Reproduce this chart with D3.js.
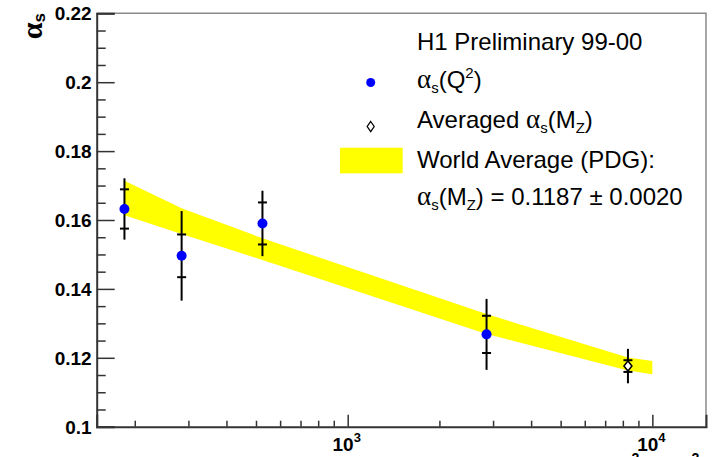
<!DOCTYPE html>
<html>
<head>
<meta charset="utf-8">
<script src="https://cdn.jsdelivr.net/npm/d3@7/dist/d3.min.js"></script>
<style>
  html, body { margin: 0; padding: 0; background: #fff; }
  svg { display: block; }
  text { font-family: "Liberation Sans", Arial, Helvetica, sans-serif; }
</style>
</head>
<body>
<svg id="chart" width="713" height="457"></svg>
<script>
// ---- data ----
const q2Values   = [185, 285, 525, 2856];
const alphaValues = [0.1632, 0.1496, 0.1590, 0.1268];
const statErrors = [0.0057, 0.0062, 0.0061, 0.0054];
const totalErrors = [0.0089, 0.0130, 0.0095, 0.0103];

const avgQ2 = [8315];
const avgAlpha = [0.1176];
const avgStat = [0.0017];
const avgTotal = [0.0050];

const bandQ2    = [185, 285, 525, 2856, 8315, 10000];
const bandUpper = [0.1714, 0.1634, 0.1547, 0.1327, 0.1201, 0.1191];
const bandLower = [0.1614, 0.1559, 0.1484, 0.1269, 0.1163, 0.1152];

const yMajorTicks = [0.1, 0.12, 0.14, 0.16, 0.18, 0.2, 0.22];
const yTickLabels = ["0.1", "0.12", "0.14", "0.16", "0.18", "0.2", "0.22"];
const xMajorTicks = [1000, 10000];
const xTickExponents = ["3", "4"];

// ---- layout ----
const svg = d3.select("#chart");
const L = 96.7, R = 706, T = 13.3, B = 426.7;
const x = d3.scaleLog().domain([150, 15000]).range([L, R]);
const y = d3.scaleLinear().domain([0.1, 0.22]).range([B, T]);

// band
const bandData = bandQ2.map((q, i) => ({q, hi: bandUpper[i], lo: bandLower[i]}));
svg.append("path")
  .datum(bandData)
  .attr("fill", "#ffff00")
  .attr("d", d3.area().x(d => x(d.q)).y0(d => y(d.lo)).y1(d => y(d.hi)));

// frame (top/right grey)
svg.append("path")
  .attr("d", `M${L},${T}H${R}V${B}`)
  .attr("fill", "none").attr("stroke", "#8a8a8a").attr("stroke-width", 1.5);

// y axis minor
const yMinor = d3.range(0.1, 0.2201, 0.005).filter(v => yMajorTicks.every(m => Math.abs(m - v) > 1e-6));
svg.append("g").attr("transform", `translate(${L},0)`)
  .call(d3.axisLeft(y).tickValues(yMinor).tickSize(-9).tickFormat(""))
  .call(g => g.select(".domain").remove())
  .call(g => g.selectAll("line").attr("stroke", "#333").attr("stroke-width", 1.5));

// y axis major
svg.append("g").attr("transform", `translate(${L},0)`)
  .call(d3.axisLeft(y).tickValues(yMajorTicks).tickSize(-18).tickFormat(""))
  .call(g => g.select(".domain").attr("stroke", "#333").attr("stroke-width", 2))
  .call(g => g.selectAll("line").attr("stroke", "#333").attr("stroke-width", 1.5));

// y tick labels
svg.append("g").selectAll("text").data(yMajorTicks).join("text")
  .attr("x", L - 5).attr("y", d => y(d)).attr("dy", "0.36em")
  .attr("text-anchor", "end")
  .attr("font-family", "'Liberation Sans', Arial, sans-serif")
  .attr("font-size", 19).attr("font-weight", "bold").attr("fill", "#000")
  .text((d, i) => yTickLabels[i]);

// x axis minor
const xMinor = [];
[100, 1000, 10000].forEach(dec => { for (let k = 2; k <= 9; k++) { const v = dec * k; if (v >= 150 && v <= 15000) xMinor.push(v); } });
svg.append("g").attr("transform", `translate(0,${B})`)
  .call(d3.axisBottom(x).tickValues(xMinor).tickSize(-6).tickFormat(""))
  .call(g => g.select(".domain").remove())
  .call(g => g.selectAll("line").attr("stroke", "#333").attr("stroke-width", 1.5));

// x axis major
svg.append("g").attr("transform", `translate(0,${B})`)
  .call(d3.axisBottom(x).tickValues(xMajorTicks).tickSize(-12).tickFormat(""))
  .call(g => g.select(".domain").attr("stroke", "#333").attr("stroke-width", 2))
  .call(g => g.selectAll("line").attr("stroke", "#333").attr("stroke-width", 1.5));

// x tick labels
xMajorTicks.forEach((d, i) => {
  const t = svg.append("text")
    .attr("x", x(d) - 1).attr("y", 451).attr("text-anchor", "middle")
    .attr("font-size", 19).attr("font-weight", "bold").attr("fill", "#000");
  t.append("tspan").text("10");
  t.append("tspan").attr("dy", -9).attr("font-size", 13).text(xTickExponents[i]);
});

// y title
const yt = svg.append("text")
  .attr("transform", "translate(42,13) rotate(-90)")
  .attr("text-anchor", "end").attr("font-weight", "bold").attr("fill", "#000");
yt.append("tspan").attr("font-family", "'Liberation Serif', 'DejaVu Serif', serif").attr("font-size", 30).text("α");
yt.append("tspan").attr("font-size", 17).attr("dy", 3).text("s");

// x title (cut off at the bottom edge, as in the reference)
const xt = svg.append("text")
  .attr("x", 706).attr("y", 473).attr("text-anchor", "end")
  .attr("font-size", 20).attr("font-weight", "bold").attr("fill", "#000");
xt.append("tspan").text("Q");
xt.append("tspan").attr("dy", -10).attr("font-size", 14).text("2");
xt.append("tspan").attr("dy", 10).text(" [GeV");
xt.append("tspan").attr("dy", -10).attr("font-size", 14).text("2");
xt.append("tspan").attr("dy", 10).text("]");

// error bars
function drawErrors(qs, vals, stat, tot) {
  const g = svg.append("g").attr("stroke", "#000").attr("stroke-width", 2);
  qs.forEach((q, i) => {
    const cx = x(q);
    g.append("line").attr("x1", cx).attr("x2", cx)
      .attr("y1", y(vals[i] + tot[i])).attr("y2", y(vals[i] - tot[i]));
    [vals[i] + stat[i], vals[i] - stat[i]].forEach(v => {
      g.append("line").attr("x1", cx - 4.5).attr("x2", cx + 4.5).attr("y1", y(v)).attr("y2", y(v));
    });
  });
}
drawErrors(q2Values, alphaValues, statErrors, totalErrors);
drawErrors(avgQ2, avgAlpha, avgStat, avgTotal);

svg.append("g").selectAll("circle").data(q2Values).join("circle")
  .attr("cx", d => x(d)).attr("cy", (d, i) => y(alphaValues[i])).attr("r", 5)
  .attr("fill", "#0000ff");

const diamond = (cx, cy, w, h) => `M${cx},${cy - h}L${cx + w},${cy}L${cx},${cy + h}L${cx - w},${cy}Z`;
svg.append("g").selectAll("path").data(avgQ2).join("path")
  .attr("d", (d, i) => diamond(x(d), y(avgAlpha[i]), 4, 5))
  .attr("fill", "#fff").attr("stroke", "#000").attr("stroke-width", 1.5);

// legend
const lg = svg.append("g").attr("font-size", 24).attr("fill", "#000");
const tx = 417;
lg.append("text").attr("x", tx).attr("y", 50).text("H1 Preliminary 99-00");

const alphaSpan = (t) => {
  t.append("tspan").attr("font-family", "'Liberation Serif', 'DejaVu Serif', serif").attr("font-size", 27).text("α");
  t.append("tspan").attr("font-size", 15).attr("dy", 5).text("s");
};
let t2 = lg.append("text").attr("x", tx).attr("y", 88);
alphaSpan(t2);
t2.append("tspan").attr("dy", -5).text("(Q");
t2.append("tspan").attr("font-size", 15).attr("dy", -10).text("2");
t2.append("tspan").attr("dy", 10).text(")");
lg.append("circle").attr("cx", 370.7).attr("cy", 82.5).attr("r", 4.5).attr("fill", "#0000ff");

let t3 = lg.append("text").attr("x", tx).attr("y", 128);
t3.append("tspan").text("Averaged ");
alphaSpan(t3);
t3.append("tspan").attr("dy", -5).text("(M");
t3.append("tspan").attr("font-size", 15).attr("dy", 5).text("Z");
t3.append("tspan").attr("dy", -5).text(")");
lg.append("path").attr("d", diamond(370.7, 126.5, 3.5, 5)).attr("fill", "#fff").attr("stroke", "#000").attr("stroke-width", 1.3);

lg.append("rect").attr("x", 340).attr("y", 147.7).attr("width", 62.7).attr("height", 25.6).attr("fill", "#ffff00");
lg.append("text").attr("x", tx).attr("y", 168).text("World Average (PDG):");

let t5 = lg.append("text").attr("x", tx).attr("y", 205);
alphaSpan(t5);
t5.append("tspan").attr("dy", -5).text("(M");
t5.append("tspan").attr("font-size", 15).attr("dy", 5).text("Z");
t5.append("tspan").attr("dy", -5).text(") = 0.1187 ± 0.0020");
</script>
</body>
</html>
